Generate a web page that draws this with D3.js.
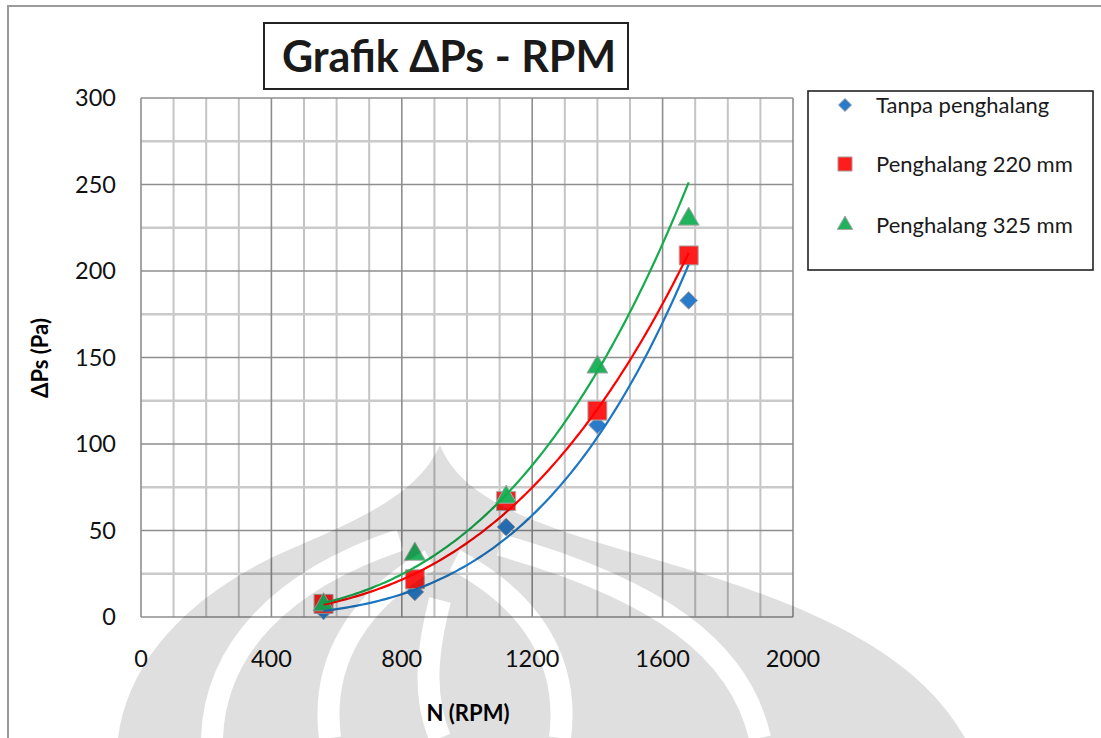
<!DOCTYPE html>
<html>
<head>
<meta charset="utf-8">
<script src="https://cdn.jsdelivr.net/npm/d3@7"></script>
<style>
  body { margin: 0; background: #fff; }
  svg { display: block; font-family: Lato, "Open Sans", sans-serif; }
</style>
</head>
<body>
<svg id="chart" width="1101" height="738"></svg>
<script>
// data
const rpm = [560, 840, 1120, 1400, 1680];
const tanpa = [3.5, 14.5, 52, 111, 183];
const p220 = [7.6, 21.8, 67, 119.3, 209];
const p325 = [7, 36.3, 69.3, 144.5, 230];
const seriesNames = ["Tanpa penghalang", "Penghalang 220 mm", "Penghalang 325 mm"];
const xTicks = [0, 400, 800, 1200, 1600, 2000];
const yTicks = [0, 50, 100, 150, 200, 250, 300];

const svg = d3.select("#chart");

// plot area
const x = d3.scaleLinear().domain([0, 2000]).range([141, 793]);
const y = d3.scaleLinear().domain([0, 300]).range([617, 98]);

// outer frame (left + top)
svg.append("path")
  .attr("d", "M8,738 L8,6 L1101,6")
  .attr("fill", "none").attr("stroke", "#9a9a9a").attr("stroke-width", 2);

// minor grid
const g = svg.append("g");
g.selectAll(".vmin").data(d3.range(100, 2000, 100).filter(d => d % 400 !== 0))
  .enter().append("line")
  .attr("x1", d => x(d)).attr("x2", d => x(d))
  .attr("y1", y(300)).attr("y2", y(0))
  .attr("stroke", "#c4c4c4").attr("stroke-width", 2);
g.selectAll(".hmin").data(d3.range(25, 300, 50))
  .enter().append("line")
  .attr("x1", x(0)).attr("x2", x(2000))
  .attr("y1", d => y(d)).attr("y2", d => y(d))
  .attr("stroke", "#cacaca").attr("stroke-width", 2.5);
// major grid
g.selectAll(".vmaj").data(xTicks)
  .enter().append("line")
  .attr("x1", d => x(d)).attr("x2", d => x(d))
  .attr("y1", y(300)).attr("y2", y(0))
  .attr("stroke", "#8e8e8e").attr("stroke-width", 1.6);
g.selectAll(".hmaj").data(yTicks)
  .enter().append("line")
  .attr("x1", x(0)).attr("x2", x(2000))
  .attr("y1", d => y(d)).attr("y2", d => y(d))
  .attr("stroke", "#8e8e8e").attr("stroke-width", 1.6);

// tick labels
svg.append("g").selectAll("text").data(yTicks).enter().append("text")
  .attr("x", 116).attr("y", d => y(d)).attr("dy", "0.36em")
  .attr("text-anchor", "end").attr("font-size", 23.5).attr("fill", "#111")
  .text(d => d);
svg.append("g").selectAll("text").data(xTicks).enter().append("text")
  .attr("x", d => x(d)).attr("y", 667)
  .attr("text-anchor", "middle").attr("font-size", 23.5).attr("fill", "#111")
  .text(d => d);

// axis titles
svg.append("text")
  .attr("transform", "translate(48,358) rotate(-90)")
  .attr("text-anchor", "middle").attr("font-size", 22).attr("font-weight", "bold")
  .text("ΔPs (Pa)");
svg.append("text")
  .attr("x", 468).attr("y", 721)
  .attr("text-anchor", "middle").attr("font-size", 22).attr("font-weight", "bold")
  .text("N (RPM)");

// title
svg.append("rect").attr("x", 264).attr("y", 23).attr("width", 364).attr("height", 66)
  .attr("fill", "#fff").attr("stroke", "#222").attr("stroke-width", 2);
svg.append("text")
  .attr("x", 449).attr("y", 72)
  .attr("text-anchor", "middle").attr("font-size", 43).attr("font-weight", "bold")
  .attr("fill", "#1a1a1a")
  .text("Grafik ΔPs - RPM");

// power trendline like excel: y = a * x^b fitted in log-log space
function powerFit(xs, ys) {
  const lx = xs.map(Math.log), ly = ys.map(Math.log);
  const mx = d3.mean(lx), my = d3.mean(ly);
  const b = d3.sum(lx.map((v, i) => (v - mx) * (ly[i] - my))) / d3.sum(lx.map(v => (v - mx) ** 2));
  const a = Math.exp(my - b * mx);
  return v => a * Math.pow(v, b);
}

const series = [
  { name: seriesNames[0], values: tanpa, fill: "#2a7bc9", line: "#1b76c4", shape: d3.symbolDiamond2, size: 200 },
  { name: seriesNames[1], values: p220, fill: "#ff1c1c", line: "#ff0000", shape: d3.symbolSquare, size: 360 },
  { name: seriesNames[2], values: p325, fill: "#20b25c", line: "#16ab4c", shape: d3.symbolTriangle, size: 190 }
];

// markers
series.forEach(s => {
  svg.append("g").selectAll("path").data(rpm).enter().append("path")
    .attr("transform", (d, i) => `translate(${x(d)},${y(s.values[i])})`)
    .attr("d", d3.symbol().type(s.shape).size(s.size))
    .attr("fill", s.fill).attr("stroke", "#a8a8a8").attr("stroke-width", 1);
});

// trendlines
const line = d3.line().x(d => x(d[0])).y(d => y(d[1])).curve(d3.curveLinear);
series.forEach(s => {
  const f = powerFit(rpm, s.values);
  const pts = d3.range(rpm[0], rpm[rpm.length - 1] + 1, 10).map(v => [v, f(v)]);
  svg.append("path").attr("d", line(pts))
    .attr("fill", "none").attr("stroke", s.line).attr("stroke-width", 2.2);
});

// legend
svg.append("rect").attr("x", 808).attr("y", 91).attr("width", 285).attr("height", 179)
  .attr("fill", "#fff").attr("stroke", "#222").attr("stroke-width", 1.6);
const ly = [105, 164, 225];
series.forEach((s, i) => {
  svg.append("path")
    .attr("transform", `translate(845,${ly[i]})`)
    .attr("d", d3.symbol().type(s.shape).size(s.size * 0.55))
    .attr("fill", s.fill).attr("stroke", "#a8a8a8").attr("stroke-width", 1);
  svg.append("text").attr("x", 876).attr("y", ly[i]).attr("dy", "0.36em")
    .attr("font-size", 22).attr("fill", "#1a1a1a").text(s.name);
});

// watermark logo (rough)
const defs = svg.append("defs");
const mask = defs.append("mask").attr("id", "wm");
mask.append("path")
  .attr("d", "M118,738 C128,660 190,590 300,545 C370,515 420,490 440,445 C458,490 510,515 590,540 C720,580 900,620 965,738 Z")
  .attr("fill", "#fff");
const gaps = [
  "M212,738 C215,650 280,580 400,540",
  "M330,738 C320,660 360,600 430,560",
  "M560,738 C570,660 530,600 455,560",
  "M760,738 C740,650 660,590 500,545",
  "M440,600 C430,640 420,690 440,738"
];
mask.selectAll(".gap").data(gaps).enter().append("path")
  .attr("d", d => d).attr("fill", "none").attr("stroke", "#000").attr("stroke-width", 22);
svg.append("rect").attr("x", 0).attr("y", 0).attr("width", 1101).attr("height", 738)
  .attr("fill", "#000").attr("opacity", 0.12).attr("mask", "url(#wm)");
</script>
</body>
</html>
